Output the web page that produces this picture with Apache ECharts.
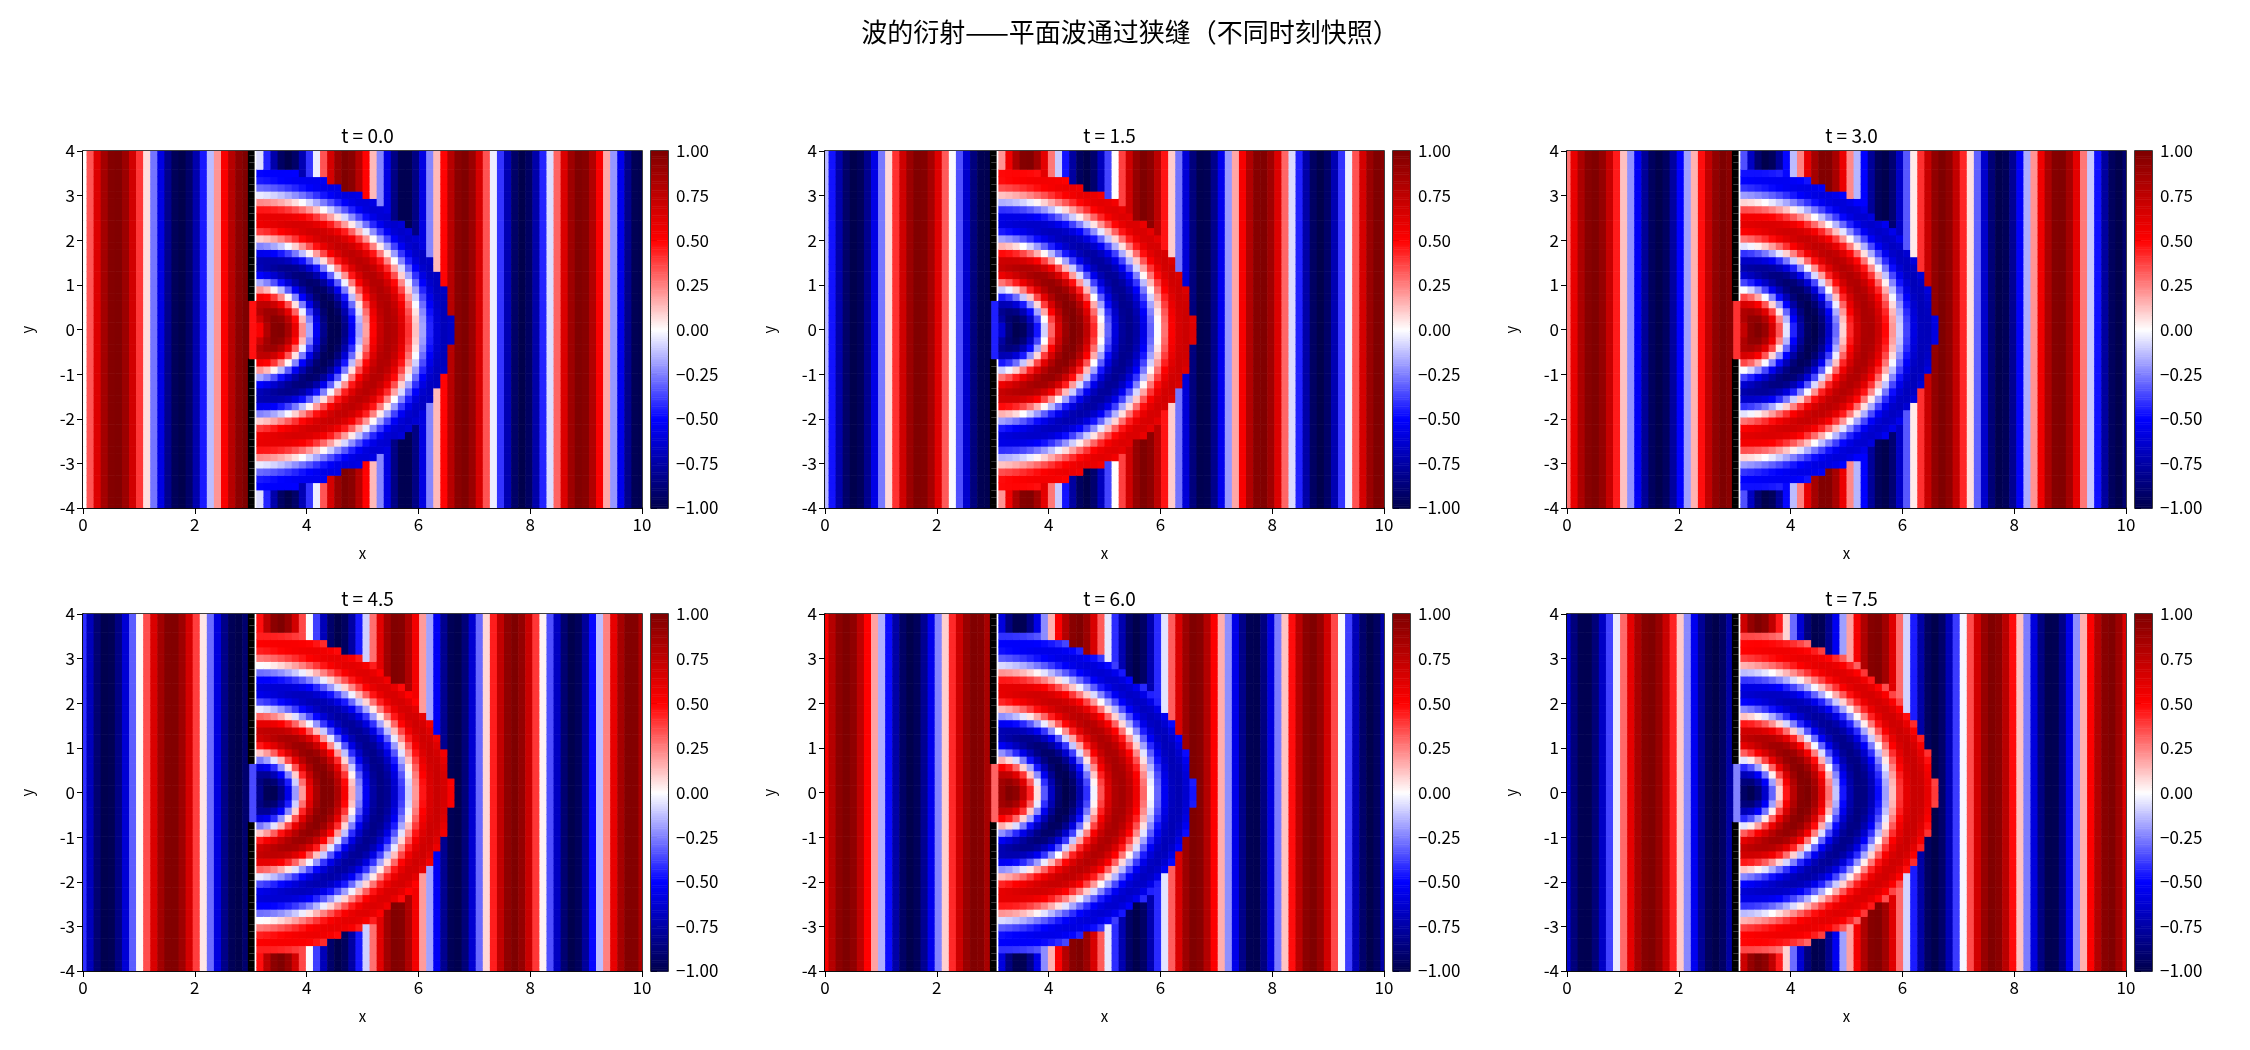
<!DOCTYPE html>
<html><head><meta charset="utf-8">
<script src="https://cdn.jsdelivr.net/npm/echarts@6/dist/echarts.min.js"></script>
<style>html,body{margin:0;padding:0;background:#fff}#c{width:2250px;height:1050px}</style>
</head><body><div id="c"></div>
<script>
// ---- values ----
const times = [0.0, 1.5, 3.0, 4.5, 6.0, 7.5];
const panelTitles = ['t = 0.0', 't = 1.5', 't = 3.0', 't = 4.5', 't = 6.0', 't = 7.5'];
const xTicks = [0, 2, 4, 6, 8, 10];
const yTicks = [-4, -3, -2, -1, 0, 1, 2, 3, 4];
const cbTicks = [-1, -0.75, -0.5, -0.25, 0, 0.25, 0.5, 0.75, 1];
const gridCols = [80];            // samples across x (0..10)
const gridRows = [50];            // samples across y (-4..4)
const waveLeft = [2.7, 0.0];      // wavenumber, phase of incoming plane wave (x < barrier)
const waveRight = [3.0, 0.0];     // wavenumber, phase of plane wave right of barrier
const waveRadial = [Math.PI, 0.0, 3.6]; // wavenumber, phase, front radius of diffracted wave
const omega = [2.0];
const barrier = [3.0, 0.6];       // barrier x, half-width of slit
const seismic = ['#00004c', '#0000ff', '#ffffff', '#ff0000', '#7f0000'];

// ---- build fields ----
const NX = gridCols[0], NY = gridRows[0];
const xs = [], ys = [];
for (let i = 0; i < NX; i++) xs.push(10 * i / (NX - 1));
for (let j = 0; j < NY; j++) ys.push(-4 + 8 * j / (NY - 1));
const dx = xs[1] - xs[0], dy = ys[1] - ys[0];
let bi = 0; xs.forEach((x, i) => { if (Math.abs(x - barrier[0]) < Math.abs(xs[bi] - barrier[0])) bi = i; });

function field(t) {
  const out = [];
  const w = omega[0];
  for (let i = 0; i < NX; i++) for (let j = 0; j < NY; j++) {
    const x = xs[i], y = ys[j];
    let v, wall = 0;
    if (i < bi) v = Math.sin(waveLeft[0] * x + waveLeft[1] - w * t);
    else if (i === bi) {
      if (Math.abs(y) > barrier[1]) { v = 0; wall = 1; }
      else v = 0.5 * Math.sin(waveLeft[0] * x + waveLeft[1] - w * t);
    } else {
      const r = Math.hypot(x - barrier[0], y);
      if (r < waveRadial[2]) {
        const c = (x - barrier[0]) / Math.max(r, 1e-6);
        const amp = Math.min(1, 1.3 / Math.sqrt(Math.max(r, 0.3))) * (0.7 + 0.3 * c);
        v = amp * Math.sin(waveRadial[0] * r + waveRadial[1] - w * t);
      } else v = Math.sin(waveRight[0] * x + waveRight[1] - w * t);
    }
    out.push([x, y, v, wall]);
  }
  return out;
}

function hex(h) { return [parseInt(h.substr(1, 2), 16), parseInt(h.substr(3, 2), 16), parseInt(h.substr(5, 2), 16)]; }
const stops = seismic.map(hex);
function colorOf(v) {
  v = Math.max(-1, Math.min(1, v));
  const p = (v + 1) / 2 * (stops.length - 1);
  const k = Math.min(stops.length - 2, Math.floor(p)), f = p - k;
  const a = stops[k], b = stops[k + 1];
  return 'rgb(' + [0, 1, 2].map(n => Math.round(a[n] + (b[n] - a[n]) * f)).join(',') + ')';
}

// ---- layout ----
const colL = [83, 825, 1567], colW = 559;
const rowT = [151, 614], rowH = 357;
const FONT = '"Noto Sans CJK SC", "DejaVu Sans", sans-serif';

const grids = [], xAxes = [], yAxes = [], series = [], titles = [];
titles.push({ text: '波的衍射——平面波通过狭缝（不同时刻快照）', left: 1125, top: 14, textAlign: 'center',
  textStyle: { fontFamily: FONT, fontSize: 26, fontWeight: 'normal', color: '#000' } });

times.forEach((t, p) => {
  const L = colL[p % 3], T = rowT[Math.floor(p / 3)];
  const gi = grids.length;
  grids.push({ left: L, top: T, width: colW, height: rowH, show: true, borderColor: '#000', borderWidth: 1.5, backgroundColor: 'transparent' });
  xAxes.push({ gridIndex: gi, type: 'value', min: 0, max: 10, interval: 2, name: 'x', nameLocation: 'middle', nameGap: 38,
    nameTextStyle: { fontFamily: FONT, fontSize: 15, color: '#000' },
    axisLine: { show: true, onZero: false, lineStyle: { color: '#000', width: 1.5 } },
    axisTick: { show: true, length: 6, lineStyle: { color: '#000' } }, splitLine: { show: false },
    axisLabel: { fontFamily: FONT, fontSize: 17, color: '#000', margin: 8 } });
  yAxes.push({ gridIndex: gi, type: 'value', min: -4, max: 4, interval: 1, name: 'y', nameLocation: 'middle', nameGap: 48,
    nameTextStyle: { fontFamily: FONT, fontSize: 15, color: '#000' },
    axisLine: { show: true, onZero: false, lineStyle: { color: '#000', width: 1.5 } },
    axisTick: { show: true, length: 6, lineStyle: { color: '#000' } }, splitLine: { show: false },
    axisLabel: { fontFamily: FONT, fontSize: 17, color: '#000', margin: 8 } });
  series.push({ type: 'custom', xAxisIndex: gi, yAxisIndex: gi, clip: true, silent: true, progressive: 0,
    data: field(t),
    renderItem: function (params, api) {
      const x = api.value(0), y = api.value(1), v = api.value(2), wall = api.value(3);
      const a = api.coord([x - dx / 2, y + dy / 2]), b = api.coord([x + dx / 2, y - dy / 2]);
      const cell = { type: 'rect', shape: { x: a[0], y: a[1], width: b[0] - a[0] + 0.6, height: b[1] - a[1] + 0.6 },
        style: { fill: colorOf(v) } };
      if (!wall) return cell;
      const c1 = api.coord([barrier[0] - 0.05, 0]), c2 = api.coord([barrier[0] + 0.07, 0]);
      return { type: 'group', children: [cell,
        { type: 'rect', shape: { x: c1[0], y: a[1], width: c2[0] - c1[0], height: b[1] - a[1] + 0.6 }, style: { fill: '#000' } }] };
    },
    encode: { x: 0, y: 1 } });
  titles.push({ text: panelTitles[p], left: L + colW / 2, top: T - 30, textAlign: 'center',
    textStyle: { fontFamily: FONT, fontSize: 19, fontWeight: 'normal', color: '#000' } });

  // colorbar
  const ci = grids.length;
  grids.push({ left: L + colW + 9, top: T, width: 17, height: rowH, show: true, borderColor: '#000', borderWidth: 1.5, backgroundColor: 'transparent' });
  xAxes.push({ gridIndex: ci, type: 'value', min: 0, max: 1, show: false });
  yAxes.push({ gridIndex: ci, type: 'value', min: -1, max: 1, interval: 0.25, position: 'right',
    axisLine: { show: false }, axisTick: { show: true, length: 6, lineStyle: { color: '#000' } }, splitLine: { show: false },
    axisLabel: { fontFamily: FONT, fontSize: 17, color: '#000', margin: 8, formatter: v => v.toFixed(2).replace('-', '−') } });
  const cb = [];
  for (let k = 0; k < 200; k++) cb.push([-1 + 2 * k / 200, -1 + 2 * (k + 1) / 200]);
  series.push({ type: 'custom', xAxisIndex: ci, yAxisIndex: ci, silent: true, data: cb,
    renderItem: function (params, api) {
      const lo = api.value(0), hi = api.value(1);
      const a = api.coord([0, hi]), b = api.coord([1, lo]);
      return { type: 'rect', shape: { x: a[0], y: a[1], width: b[0] - a[0], height: b[1] - a[1] + 0.5 },
        style: { fill: colorOf((lo + hi) / 2) } };
    }, encode: { x: 0, y: 0 } });
});

const chart = echarts.init(document.getElementById('c'));
chart.setOption({ animation: false, backgroundColor: '#fff', title: titles, grid: grids, xAxis: xAxes, yAxis: yAxes, series: series });
</script></body></html>
